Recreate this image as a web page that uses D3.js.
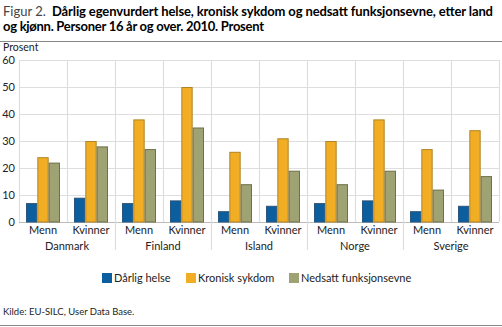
<!DOCTYPE html>
<html><head><meta charset="utf-8">
<script src="https://cdn.jsdelivr.net/npm/d3@7"></script>
<style>
body{margin:0;background:#fff;}
svg{display:block;font-family:"Lato","Open Sans",sans-serif;}
</style></head><body>
<svg id="c" width="502" height="327"></svg>
<script>
const countries = ["Danmark","Finland","Island","Norge","Sverige"];
const genders = ["Menn","Kvinner"];
const seriesNames = ["Dårlig helse","Kronisk sykdom","Nedsatt funksjonsevne"];
const darligHelse = [7,9,7,8,4,6,7,8,4,6];
const kroniskSykdom = [24,30,38,50,26,31,30,38,27,34];
const nedsattFunksjonsevne = [22,28,27,35,14,19,14,19,12,17];
const yTicks = [0,10,20,30,40,50,60];
const colors = ["#0b5f9e","#f1ae25","#9fa273"];
const strokes = ["#2b5478","#b28322","#6d7048"];

const svg = d3.select("#c");
const x0 = 19, x1 = 499, yTop=60, yBot=222;

const cats = [];
countries.forEach(c=>genders.forEach(g=>cats.push(c+"|"+g)));
const x = d3.scaleBand().domain(cats).range([x0,x1]).paddingInner(0).paddingOuter(0);
const xs = d3.scaleBand().domain(d3.range(3)).range([7, x.bandwidth()-7]);
const y = d3.scaleLinear().domain([0,60]).range([yBot,yTop]);

// Title
const t = svg.append("text").attr("x",3).attr("y",16).attr("font-size",13).attr("fill","#000");
t.append("tspan").attr("fill","#444").text("Figur 2.");
t.append("tspan").attr("x",52).attr("font-weight","bold").attr("textLength",441).attr("lengthAdjust","spacing")
  .text("Dårlig egenvurdert helse, kronisk sykdom og nedsatt funksjonsevne, etter land");
svg.append("text").attr("x",3).attr("y",31).attr("font-size",13).attr("font-weight","bold")
  .attr("textLength",261).attr("lengthAdjust","spacing").text("og kjønn. Personer 16 år og over. 2010. Prosent");
svg.append("line").attr("x1",0).attr("x2",502).attr("y1",41.5).attr("y2",41.5).attr("stroke","#888").attr("stroke-width",1);
svg.append("line").attr("x1",0).attr("x2",502).attr("y1",325.5).attr("y2",325.5).attr("stroke","#888").attr("stroke-width",1);

svg.append("text").attr("x",3).attr("y",51).attr("font-size",10.5).attr("fill","#222").text("Prosent");

// grid horizontal
const g = svg.append("g");
g.selectAll("line.h").data(yTicks).join("line")
  .attr("x1",x0).attr("x2",x1).attr("y1",d=>Math.round(y(d))+0.5).attr("y2",d=>Math.round(y(d))+0.5)
  .attr("stroke",d=>d===0?"#bbb":"#dedede").attr("stroke-width",1.2);
const bounds = cats.map(c=>x(c)).concat([x1]);
g.selectAll("line.v").data(bounds).join("line")
  .attr("x1",d=>Math.round(d)+0.5).attr("x2",d=>Math.round(d)+0.5)
  .attr("y1",yTop).attr("y2",yBot).attr("stroke","#dedede").attr("stroke-width",1.2);
const csep = countries.slice(1).map(c=>x(c+"|Menn"));
g.selectAll("line.s").data(csep).join("line")
  .attr("x1",d=>Math.round(d)+0.5).attr("x2",d=>Math.round(d)+0.5)
  .attr("y1",yBot).attr("y2",250).attr("stroke","#dedede").attr("stroke-width",1.2);

// y axis labels
svg.append("g").selectAll("text").data(yTicks).join("text")
  .attr("x",15).attr("y",d=>y(d)+4).attr("text-anchor","end").attr("font-size",11).attr("fill","#222")
  .text(d=>d);

// bars
const series=[darligHelse,kroniskSykdom,nedsattFunksjonsevne];
series.forEach((vals,si)=>{
  svg.append("g").selectAll("rect").data(vals).join("rect")
    .attr("x",(d,i)=>x(cats[i])+xs(si)+0.5)
    .attr("y",d=>y(d)+0.5)
    .attr("width",xs.bandwidth()-1)
    .attr("height",d=>yBot-y(d)-0.5)
    .attr("fill",colors[si]).attr("stroke",strokes[si]).attr("stroke-width",1);
});

// x labels
svg.append("g").selectAll("text").data(cats).join("text")
  .attr("x",d=>x(d)+x.bandwidth()/2).attr("y",234).attr("text-anchor","middle")
  .attr("font-size",11).attr("fill","#222").text(d=>d.split("|")[1]);
svg.append("g").selectAll("text").data(countries).join("text")
  .attr("x",d=>x(d+"|Menn")+x.bandwidth()).attr("y",250).attr("text-anchor","middle")
  .attr("font-size",11).attr("fill","#222").text(d=>d);

// legend
const lx=[102,186,289];
const lg = svg.append("g");
seriesNames.forEach((n,i)=>{
  lg.append("rect").attr("x",lx[i]).attr("y",273).attr("width",10).attr("height",10).attr("fill",colors[i]);
  lg.append("text").attr("x",lx[i]+12).attr("y",282).attr("font-size",11).attr("fill","#222").text(n);
});

svg.append("text").attr("x",3).attr("y",315).attr("font-size",9.5).attr("fill","#222").text("Kilde: EU-SILC, User Data Base.");
</script>
</body></html>
